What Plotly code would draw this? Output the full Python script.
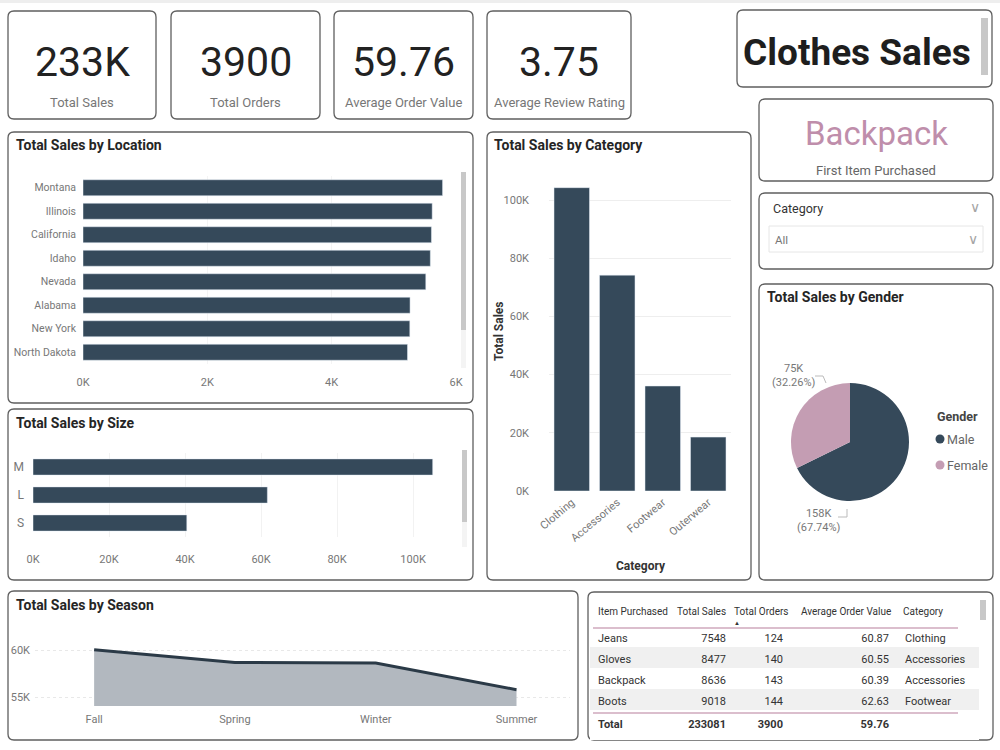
import plotly.graph_objects as go

# ---------------- data ----------------
kpi_values = ["233K", "3900", "59.76", "3.75"]
kpi_labels = ["Total Sales", "Total Orders", "Average Order Value", "Average Review Rating"]

locations = ["Montana", "Illinois", "California", "Idaho", "Nevada", "Alabama", "New York", "North Dakota"]
location_sales = [5784, 5617, 5605, 5587, 5514, 5261, 5257, 5220]
location_ticks = [0, 2000, 4000, 6000]

sizes = ["M", "L", "S"]
size_sales = [105167, 61667, 40468]
size_ticks = [0, 20000, 40000, 60000, 80000, 100000]

categories = ["Clothing", "Accessories", "Footwear", "Outerwear"]
category_sales = [104264, 74200, 36093, 18524]
category_ticks = [0, 20000, 40000, 60000, 80000, 100000]

genders = ["Male", "Female"]
gender_sales = [157890, 75191]

seasons = ["Fall", "Spring", "Winter", "Summer"]
season_sales = [60018, 58679, 58607, 55777]
season_ticks = [55000, 60000]

table_headers = ["Item Purchased", "Total Sales", "Total Orders", "Average Order Value", "Category"]
table_items = ["Jeans", "Gloves", "Backpack", "Boots"]
table_sales = [7548, 8477, 8636, 9018]
table_orders = [124, 140, 143, 144]
table_aov = [60.87, 60.55, 60.39, 62.63]
table_category = ["Clothing", "Accessories", "Accessories", "Footwear"]
total_sales = 233081
total_orders = 3900
total_aov = 59.76

first_item = "Backpack"
dashboard_title = "Clothes Sales"

# ---------------- style ----------------
FONT = "Roboto, Liberation Sans, sans-serif"
BAR = "#35495a"
PINK = "#c49db3"
MAUVE = "#bf8eab"
AXC = "#777777"
BORDER = "#5f5f5f"


def X(px):
    return px / 1000.0


def Y(py):
    return 1 - py / 750.0


def kfmt(v):
    return f"{int(v // 1000)}K"


fig = go.Figure()

# Location bars
fig.add_trace(go.Bar(x=location_sales, y=locations, orientation="h", marker_color=BAR,
                     width=0.68, xaxis="x", yaxis="y", hoverinfo="skip"))
# Size bars
fig.add_trace(go.Bar(x=size_sales, y=sizes, orientation="h", marker_color=BAR,
                     width=0.58, xaxis="x2", yaxis="y2", hoverinfo="skip"))
# Category bars
fig.add_trace(go.Bar(x=categories, y=category_sales, marker_color=BAR,
                     width=0.78, xaxis="x3", yaxis="y3", hoverinfo="skip"))
# Season area
fig.add_trace(go.Scatter(x=seasons, y=season_sales, mode="lines", fill="tozeroy",
                         line=dict(color="#2b3a47", width=3), fillcolor="#b2b8bf",
                         xaxis="x4", yaxis="y4", hoverinfo="skip"))
# Gender pie
fig.add_trace(go.Pie(labels=genders, values=gender_sales, sort=False, direction="clockwise",
                     rotation=0, textinfo="none", marker=dict(colors=[BAR, PINK]),
                     domain=dict(x=[X(791), X(909)], y=[Y(501), Y(383)]), hoverinfo="skip"))

# Table (header labels are written as annotations below so they may overhang their cells)
n = len(table_items)
row_fill = ["white" if i % 2 == 0 else "#f0f0f0" for i in range(n)] + ["white"]
cols = [
    table_items + ["<b>Total</b>"],
    [str(v) for v in table_sales] + [f"<b>{total_sales}</b>"],
    [str(v) for v in table_orders] + [f"<b>{total_orders}</b>"],
    [f"{v:.2f}" for v in table_aov] + [f"<b>{total_aov:.2f}</b>"],
    table_category + [""],
]
fig.add_trace(go.Table(
    domain=dict(x=[X(590), X(978)], y=[Y(740), Y(598)]),
    columnwidth=[84, 60, 57, 106, 81],
    header=dict(values=[""] * len(table_headers), fill_color="white", line_color="white", height=28,
                font=dict(family=FONT, size=10.5, color="#333333")),
    cells=dict(values=cols, align=["left", "right", "right", "right", "left"],
               fill_color=[row_fill] * 5, line_color=[row_fill] * 5, height=21,
               font=dict(family=FONT, size=11, color="#333333")),
))

axfont = dict(family=FONT, size=11, color=AXC)
common = dict(automargin=False, fixedrange=True)

layout_axes = dict(
    xaxis=dict(domain=[X(83), X(456)], anchor="y", range=[0, 6000], tickvals=location_ticks,
               ticktext=[kfmt(v) for v in location_ticks], showgrid=True, gridcolor="#f4f4f4",
               zeroline=False, tickfont=axfont, ticklabelstandoff=10, **common),
    yaxis=dict(domain=[Y(364), Y(176)], anchor="x", autorange="reversed", showgrid=False,
               tickfont=dict(family=FONT, size=10.5, color=AXC), ticklabelstandoff=6, **common),
    xaxis2=dict(domain=[X(33), X(456)], anchor="y2", range=[0, 111300], tickvals=size_ticks,
                ticktext=[kfmt(v) for v in size_ticks], showgrid=True, gridcolor="#f2f2f2",
                zeroline=False, tickfont=axfont, ticklabelstandoff=14, **common),
    yaxis2=dict(domain=[Y(537), Y(453)], anchor="x2", autorange="reversed", showgrid=False,
                tickfont=dict(family=FONT, size=12, color=AXC), ticklabelstandoff=8, **common),
    xaxis3=dict(domain=[X(549), X(731)], anchor="y3", tickangle=-40, showgrid=False,
                tickfont=axfont, ticklabelstandoff=2, **common),
    yaxis3=dict(domain=[Y(491), Y(180)], anchor="x3", range=[0, 106900], tickvals=category_ticks,
                ticktext=[kfmt(v) for v in category_ticks], showgrid=True, gridcolor="#eeeeee",
                zeroline=False, tickfont=axfont, ticklabelstandoff=19, **common),
    xaxis4=dict(domain=[X(35), X(570)], anchor="y4", range=[-0.42, 3.38], showgrid=False,
                tickfont=axfont, ticklabelstandoff=5, **common),
    yaxis4=dict(domain=[Y(706), Y(638)], anchor="x4", range=[54043, 61277], tickvals=season_ticks,
                ticktext=[kfmt(v) for v in season_ticks], showgrid=True, gridcolor="#e8e8e8",
                griddash="dot", zeroline=False, tickfont=axfont, ticklabelstandoff=4, **common),
)

shapes = []


def rrect(x0, y0, x1, y1, r=6, color=BORDER, width=1.3, fill="white"):
    pts = (f"M {X(x0 + r)},{Y(y0)} L {X(x1 - r)},{Y(y0)} Q {X(x1)},{Y(y0)} {X(x1)},{Y(y0 + r)} "
           f"L {X(x1)},{Y(y1 - r)} Q {X(x1)},{Y(y1)} {X(x1 - r)},{Y(y1)} "
           f"L {X(x0 + r)},{Y(y1)} Q {X(x0)},{Y(y1)} {X(x0)},{Y(y1 - r)} "
           f"L {X(x0)},{Y(y0 + r)} Q {X(x0)},{Y(y0)} {X(x0 + r)},{Y(y0)} Z")
    shapes.append(dict(type="path", path=pts, xref="paper", yref="paper",
                       line=dict(color=color, width=width), fillcolor=fill, layer="below"))


def rect(x0, y0, x1, y1, fill, line=None, lw=0):
    shapes.append(dict(type="rect", xref="paper", yref="paper", x0=X(x0), x1=X(x1), y0=Y(y1), y1=Y(y0),
                       fillcolor=fill, line=dict(color=line or fill, width=lw), layer="above"))


def line(x0, y0, x1, y1, color, w=1):
    shapes.append(dict(type="line", xref="paper", yref="paper", x0=X(x0), x1=X(x1), y0=Y(y0), y1=Y(y1),
                       line=dict(color=color, width=w), layer="above"))


def dot(cx, cy, r, color):
    shapes.append(dict(type="circle", xref="paper", yref="paper", x0=X(cx - r), x1=X(cx + r),
                       y0=Y(cy + r), y1=Y(cy - r), fillcolor=color, line=dict(color=color, width=0),
                       layer="above"))


# top grey strip
rect(0, 0, 1000, 3, "#eeeeee")

kpi_boxes = [(8, 11, 156, 119), (171, 11, 320, 119), (334, 11, 473, 119), (487, 11, 631, 119)]
for b in kpi_boxes:
    rrect(*b)
rrect(737, 10, 992, 87)
rrect(759, 99, 993, 181)
rrect(759, 193, 993, 269)
rrect(8, 132, 473, 403)
rrect(8, 409, 473, 580)
rrect(487, 132, 751, 580)
rrect(759, 284, 993, 580)
rrect(8, 591, 578, 740)
rrect(588, 592, 993, 740)

# slicer inner box
rect(769, 226, 983, 252, "white", "#e6e6e6", 1)

# scrollbars
rect(461, 172, 466, 368, "#f4f4f4")
rect(461, 172, 466, 330, "#c8c8c8")
rect(462, 450, 467, 547, "#f4f4f4")
rect(462, 450, 467, 522, "#c8c8c8")
rect(981, 18, 988, 75, "#c8c8c8")
rect(980, 600, 986, 620, "#c8c8c8")

# table separator lines
line(593, 628, 958, 628, "#cfa9bd", 1.5)
line(593, 713, 958, 713, "#cfa9bd", 1.5)

# pie leader lines
line(815, 376, 823, 376, "#bbbbbb", 1)
line(823, 376, 826, 383, "#bbbbbb", 1)
line(838, 517, 847, 517, "#bbbbbb", 1)
line(847, 517, 847, 509, "#bbbbbb", 1)

annotations = []


def ann(text, px, py, size, color="#333333", xanchor="left", family=FONT, yanchor="middle", textangle=0):
    annotations.append(dict(text=text, x=X(px), y=Y(py), xref="paper", yref="paper", showarrow=False,
                            xanchor=xanchor, yanchor=yanchor, textangle=textangle,
                            font=dict(family=family, size=size, color=color)))


# KPI cards
for (x0, y0, x1, y1), v, lab in zip(kpi_boxes, kpi_values, kpi_labels):
    cx = (x0 + x1) / 2
    ann(v, cx, 62, 41, "#222222", "center")
    ann(lab, cx, 102, 13, "#777777", "center")

ann("<b>" + dashboard_title + "</b>", 857, 53, 37, "#1e1e1e", "center")
ann(first_item, 876, 133, 33, MAUVE, "center")
ann("First Item Purchased", 876, 170, 13, "#666666", "center")
ann("Category", 771, 209, 12.5, "#333333")
ann("∨", 975, 207, 14, "#a5a5a5", "center")
ann("All", 773, 240, 11.5, "#777777")
ann("∨", 973, 239, 14, "#a5a5a5", "center")

titles = [("Total Sales by Location", 14, 145), ("Total Sales by Size", 14, 423),
          ("Total Sales by Category", 492, 145), ("Total Sales by Gender", 765, 297),
          ("Total Sales by Season", 14, 605)]
for t, px, py in titles:
    ann("<b>" + t + "</b>", px, py, 14, "#252525")

ann("<b>Total Sales</b>", 499, 332, 12, "#333333", "center", textangle=-90)
ann("<b>Category</b>", 641, 566, 12, "#333333", "center")

# pie labels
tot_g = sum(gender_sales)
ann(f"{round(gender_sales[1] / 1000)}K<br>({gender_sales[1] / tot_g * 100:.2f}%)", 793, 375, 11, "#777777", "center")
ann(f"{round(gender_sales[0] / 1000)}K<br>({gender_sales[0] / tot_g * 100:.2f}%)", 818, 520, 11, "#777777", "center")

# pie legend
ann("<b>Gender</b>", 935, 416, 12.5, "#444444")
legend_cols = [BAR, PINK]
for i, g in enumerate(genders):
    dot(940, 439 + 26 * i, 4.5, legend_cols[i])
    ann(g, 945, 439 + 26 * i, 12.5, "#666666")

# table header labels
hdr_pos = [(596, "left"), (728, "right"), (790, "right"), (893, "right"), (901, "left")]
for h, (px, anc) in zip(table_headers, hdr_pos):
    ann(h, px, 611, 10, "#333333", anc)

# table sort marker
ann("▲", 737, 622, 6, "#333333", "center")

fig.update_layout(
    width=1000, height=750, margin=dict(l=0, r=0, t=0, b=0),
    paper_bgcolor="white", plot_bgcolor="rgba(0,0,0,0)", showlegend=False,
    font=dict(family=FONT), shapes=shapes, annotations=annotations, **layout_axes,
)

fig.write_html("out.html")
